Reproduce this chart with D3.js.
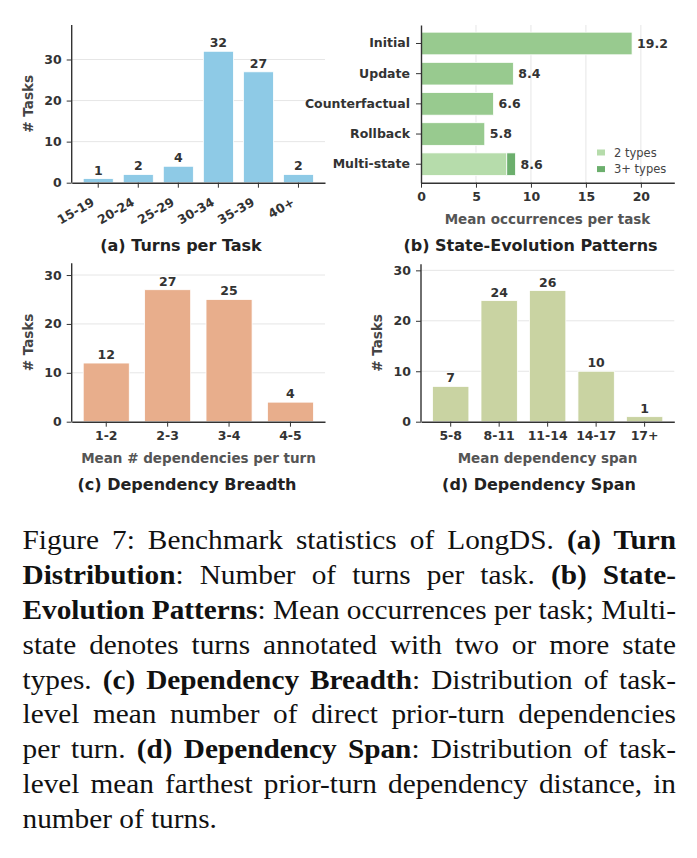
<!DOCTYPE html>
<html>
<head>
<meta charset="utf-8">
<script src="https://cdn.jsdelivr.net/npm/d3@7"></script>
<style>
  body { margin: 0; background: #fff; }
</style>
</head>
<body>
<div id="chart"></div>
<script>
// ---- data ----
const turnBins = ["15-19", "20-24", "25-29", "30-34", "35-39", "40+"];
const turnCounts = [1, 2, 4, 32, 27, 2];

const stateCats = ["Initial", "Update", "Counterfactual", "Rollback", "Multi-state"];
const stateMeans = [19.2, 8.4, 6.6, 5.8, 8.6];
const multiSplit = [7.8, 0.8];            // 2 types, 3+ types
const multiLabels = ["2 types", "3+ types"];

const breadthBins = ["1-2", "2-3", "3-4", "4-5"];
const breadthCounts = [12, 27, 25, 4];

const spanBins = ["5-8", "8-11", "11-14", "14-17", "17+"];
const spanCounts = [7, 24, 26, 10, 1];

const yTicks = [0, 10, 20, 30];
const xTicksState = [0, 5, 10, 15, 20];

const W = 697, H = 858;
const sans = "'DejaVu Sans', sans-serif";
const serif = "'Liberation Serif', 'Times New Roman', Times, serif";
const svg = d3.select("#chart").append("svg").attr("width", W).attr("height", H)
    .style("font-family", sans);

const ink = "#333";
const gridColor = "#e6e6e6";

function styleAxis(g) {
    g.attr("font-family", null).attr("font-size", null);
    g.select(".domain").attr("stroke", ink).attr("stroke-width", 1.4);
    g.selectAll(".tick line").attr("stroke", ink).attr("stroke-width", 1);
    g.selectAll(".tick text").attr("fill", ink).attr("font-weight", "bold")
        .attr("font-size", 12.5);
}

// vertical bar panel
function barPanel(box, cats, vals, color, opts) {
    let vis = {};
    vis.g = svg.append("g");
    vis.x = d3.scaleBand().domain(cats).range([box.left, box.right])
        .paddingInner(0.25).paddingOuter(0.05 * (cats.length - 0.25));
    vis.y = d3.scaleLinear().domain([0, d3.max(vals) * 1.2]).range([box.bottom, box.top]);

    // grid
    vis.g.append("g").selectAll("line").data(yTicks.slice(1)).join("line")
        .attr("x1", box.left).attr("x2", box.right)
        .attr("y1", d => vis.y(d)).attr("y2", d => vis.y(d))
        .attr("stroke", gridColor).attr("stroke-width", 1);

    vis.g.append("g").selectAll("rect").data(cats).join("rect")
        .attr("x", d => vis.x(d))
        .attr("width", vis.x.bandwidth())
        .attr("y", (d, i) => vis.y(vals[i]))
        .attr("height", (d, i) => vis.y(0) - vis.y(vals[i]))
        .attr("fill", color)
        .attr("stroke", "#fff").attr("stroke-width", 0.8);

    vis.g.append("g").selectAll("text").data(cats).join("text")
        .attr("x", d => vis.x(d) + vis.x.bandwidth() / 2)
        .attr("y", (d, i) => vis.y(vals[i]) - 4)
        .attr("text-anchor", "middle")
        .attr("font-size", 12.5).attr("font-weight", "bold").attr("fill", ink)
        .text((d, i) => vals[i]);

    let xa = vis.g.append("g").attr("transform", `translate(0,${box.bottom})`)
        .call(d3.axisBottom(vis.x).tickSize(5).tickSizeOuter(0).tickPadding(4));
    styleAxis(xa);
    if (opts.rotate) {
        xa.selectAll(".tick text")
            .attr("text-anchor", "end")
            .attr("x", 0).attr("y", 0).attr("dy", 0)
            .attr("transform", "translate(-3,22) rotate(-30)");
    }

    let ya = vis.g.append("g").attr("transform", `translate(${box.left},0)`)
        .call(d3.axisLeft(vis.y).tickValues(yTicks).tickSize(5).tickSizeOuter(0).tickPadding(5));
    styleAxis(ya);
    ya.select(".domain").attr("d", `M0,${box.bottom}V${box.top}`);

    vis.g.append("text")
        .attr("transform", `translate(${opts.ylabelX},${(box.top + box.bottom) / 2}) rotate(-90)`)
        .attr("text-anchor", "middle").attr("dy", "0.35em")
        .attr("font-size", 13.5).attr("font-weight", "bold").attr("fill", "#444")
        .text("# Tasks");

    if (opts.xlabel) {
        vis.g.append("text")
            .attr("x", opts.xlabelX).attr("y", box.bottom + 41)
            .attr("text-anchor", "middle")
            .attr("font-size", 13.5).attr("font-weight", "bold").attr("fill", "#555")
            .text(opts.xlabel);
    }

    vis.g.append("text")
        .attr("x", opts.titleX).attr("y", opts.titleY)
        .attr("text-anchor", "middle")
        .attr("font-size", 16).attr("font-weight", "bold").attr("fill", "#222")
        .text(opts.title);
    return vis;
}

barPanel({left: 71.7, right: 325, top: 25, bottom: 182.7}, turnBins, turnCounts, "#8ecae6",
    {rotate: true, ylabelX: 28.5, titleX: 181, titleY: 251, title: "(a) Turns per Task"});

barPanel({left: 71.7, right: 325, top: 263.3, bottom: 421.7}, breadthBins, breadthCounts, "#e8ae8c",
    {ylabelX: 28.5, xlabel: "Mean # dependencies per turn", xlabelX: 198.5,
     titleX: 187, titleY: 490, title: "(c) Dependency Breadth"});

barPanel({left: 421, right: 674.3, top: 264.3, bottom: 421.7}, spanBins, spanCounts, "#c9d3a2",
    {ylabelX: 377.5, xlabel: "Mean dependency span", xlabelX: 547.5,
     titleX: 539, titleY: 490, title: "(d) Dependency Span"});

// ---- panel (b): horizontal bars ----
(function () {
    const box = {left: 421, right: 674.3, top: 25, bottom: 182.7};
    const g = svg.append("g");
    const y = d3.scaleBand().domain(stateCats).range([box.top, box.bottom])
        .paddingInner(0.25).paddingOuter(0.05 * (stateCats.length - 0.25));
    const x = d3.scaleLinear().domain([0, d3.max(stateMeans) * 1.2]).range([box.left, box.right]);
    const cMain = "#98ca8f", cTwo = "#b6dcab", cThree = "#6caf6d";

    g.append("g").selectAll("line").data(xTicksState.slice(1)).join("line")
        .attr("x1", d => x(d)).attr("x2", d => x(d))
        .attr("y1", box.top).attr("y2", box.bottom)
        .attr("stroke", gridColor).attr("stroke-width", 1);

    const single = stateCats.slice(0, 4);
    g.append("g").selectAll("rect").data(single).join("rect")
        .attr("x", x(0))
        .attr("y", d => y(d))
        .attr("height", y.bandwidth())
        .attr("width", (d, i) => x(stateMeans[i]) - x(0))
        .attr("fill", cMain).attr("stroke", "#fff").attr("stroke-width", 0.8);

    // stacked multi-state bar
    const stacks = [
        {x0: 0, x1: multiSplit[0], c: cTwo},
        {x0: multiSplit[0], x1: multiSplit[0] + multiSplit[1], c: cThree}
    ];
    g.append("g").selectAll("rect").data(stacks).join("rect")
        .attr("x", d => x(d.x0))
        .attr("y", y("Multi-state"))
        .attr("height", y.bandwidth())
        .attr("width", d => x(d.x1) - x(d.x0))
        .attr("fill", d => d.c).attr("stroke", "#fff").attr("stroke-width", 0.8);

    g.append("g").selectAll("text").data(stateCats).join("text")
        .attr("x", (d, i) => x(stateMeans[i]) + 5)
        .attr("y", d => y(d) + y.bandwidth() / 2)
        .attr("dy", "0.35em")
        .attr("font-size", 12.5).attr("font-weight", "bold").attr("fill", ink)
        .text((d, i) => stateMeans[i].toFixed(1));

    const xa = g.append("g").attr("transform", `translate(0,${box.bottom})`)
        .call(d3.axisBottom(x).tickValues(xTicksState).tickSize(5).tickSizeOuter(0).tickPadding(4));
    styleAxis(xa);
    const ya = g.append("g").attr("transform", `translate(${box.left},0)`)
        .call(d3.axisLeft(y).tickSize(5).tickSizeOuter(0).tickPadding(6));
    styleAxis(ya);

    // legend
    const lg = g.append("g").attr("transform", "translate(597,152.5)");
    lg.selectAll("rect").data(multiLabels).join("rect")
        .attr("x", 0).attr("y", (d, i) => i * 16.6 - 3)
        .attr("width", 8).attr("height", 6)
        .attr("fill", (d, i) => [cTwo, cThree][i]);
    lg.selectAll("text").data(multiLabels).join("text")
        .attr("x", 17).attr("y", (d, i) => i * 16.6).attr("dy", "0.35em")
        .attr("font-size", 11.5).attr("fill", "#444")
        .text(d => d);

    g.append("text").attr("x", 547.5).attr("y", 224)
        .attr("text-anchor", "middle")
        .attr("font-size", 13.5).attr("font-weight", "bold").attr("fill", "#555")
        .text("Mean occurrences per task");
    g.append("text").attr("x", 530.5).attr("y", 251)
        .attr("text-anchor", "middle")
        .attr("font-size", 16).attr("font-weight", "bold").attr("fill", "#222")
        .text("(b) State-Evolution Patterns");
})();

// ---- caption (justified lines) ----
const captionLines = [
    [["Figure 7: Benchmark statistics of LongDS. ", 0], ["(a) Turn", 1]],
    [["Distribution", 1], [": Number of turns per task. ", 0], ["(b) State-", 1]],
    [["Evolution Patterns", 1], [": Mean occurrences per task; Multi-", 0]],
    [["state denotes turns annotated with two or more state", 0]],
    [["types. ", 0], ["(c) Dependency Breadth", 1], [": Distribution of task-", 0]],
    [["level mean number of direct prior-turn dependencies", 0]],
    [["per turn. ", 0], ["(d) Dependency Span", 1], [": Distribution of task-", 0]],
    [["level mean farthest prior-turn dependency distance, in", 0]],
    [["number of turns.", 0]]
];
const capLeft = 22.5, capRight = 676, capTop = 549, capStep = 34.9, capScaleX = 1.085;
const cap = svg.append("g").attr("transform", `translate(${capLeft},0) scale(${capScaleX},1)`)
    .style("font-family", serif);
captionLines.forEach((segs, i) => {
    const t = cap.append("text")
        .attr("x", 0).attr("y", capTop + i * capStep)
        .style("font-family", serif)
        .attr("font-size", 27).attr("fill", "#111");
    segs.forEach(s => {
        t.append("tspan").attr("font-weight", s[1] ? "bold" : "normal")
            .style("font-family", serif)
            .text(s[0]);
    });
    if (i < captionLines.length - 1) {
        const full = segs.map(s => s[0]).join("");
        const spaces = (full.match(/ /g) || []).length;
        const natural = t.node().getComputedTextLength();
        const target = (capRight - capLeft) / capScaleX;
        t.attr("word-spacing", (target - natural) / spaces);
    }
});
</script>
</body>
</html>
